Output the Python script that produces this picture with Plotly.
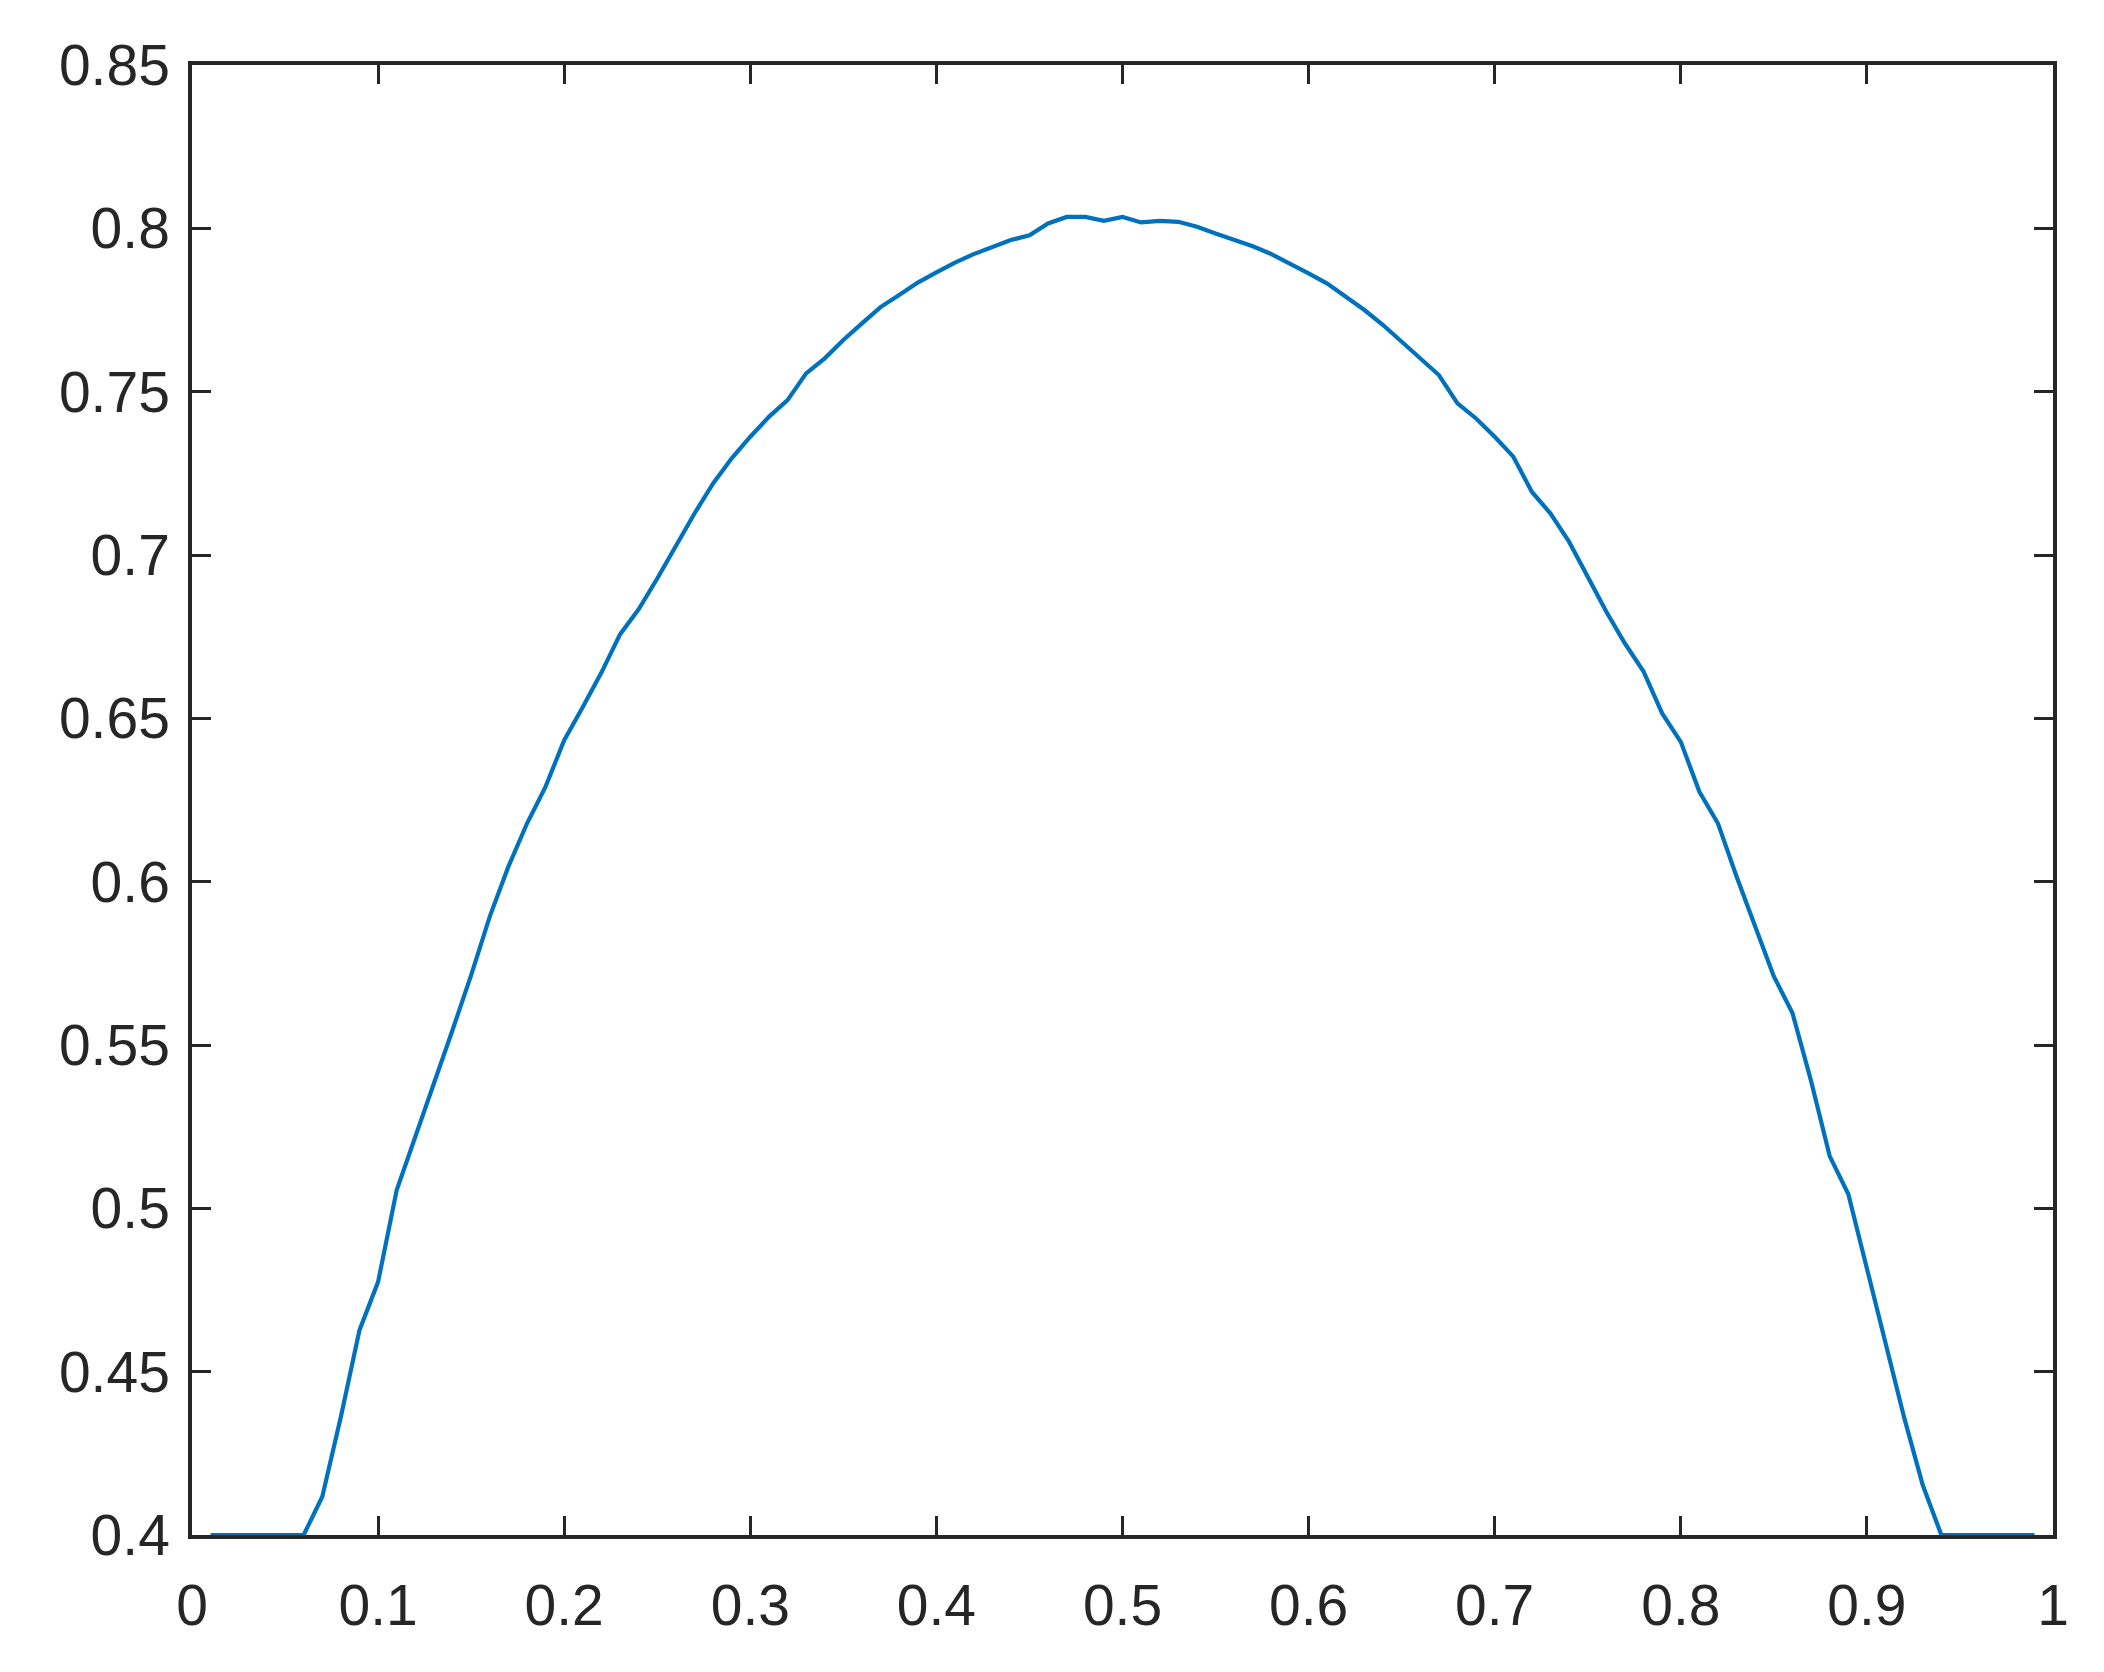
import plotly.graph_objects as go

# x grid (0.01 .. 0.99, step 0.01)
x_values = [round(0.01 * i, 2) for i in range(1, 100)]

y_values = [
    0.4, 0.4, 0.4, 0.4, 0.4, 0.4,                      # 0.01-0.06
    0.4117, 0.4362, 0.4627, 0.4775,                    # 0.07-0.10
    0.5056, 0.5219, 0.5375, 0.5546, 0.5714,            # 0.11-0.15
    0.5893, 0.6046, 0.6178, 0.6291, 0.6433,            # 0.16-0.20
    0.6535, 0.6640, 0.6757, 0.6834, 0.6928,            # 0.21-0.25
    0.7030, 0.7127, 0.7219, 0.7296, 0.7362,            # 0.26-0.30
    0.7423, 0.7474, 0.7556, 0.7602, 0.7658,            # 0.31-0.35
    0.7709, 0.7759, 0.7796, 0.7834, 0.7865,            # 0.36-0.40
    0.7895, 0.7921, 0.7943, 0.7964, 0.7979,            # 0.41-0.45
    0.8015, 0.8035, 0.8035, 0.8023, 0.8035,            # 0.46-0.50
    0.8018, 0.8023, 0.8020, 0.8005, 0.7984,            # 0.51-0.55
    0.7966, 0.7945, 0.7921, 0.7893, 0.7862,            # 0.56-0.60
    0.7831, 0.7790, 0.7750, 0.7704, 0.7652,            # 0.61-0.65
    0.7602, 0.7551, 0.7464, 0.7418, 0.7362,            # 0.66-0.70
    0.7301, 0.7193, 0.7127, 0.7040, 0.6933,            # 0.71-0.75
    0.6826, 0.6729, 0.6643, 0.6515, 0.6428,            # 0.76-0.80
    0.6275, 0.6178, 0.6015, 0.5860, 0.5710,            # 0.81-0.85
    0.5598, 0.5390, 0.5160, 0.5044, 0.4816,            # 0.86-0.90
    0.4594, 0.4360, 0.4153,                            # 0.91-0.93
    0.4, 0.4, 0.4, 0.4, 0.4, 0.4,                      # 0.94-0.99
]

x_ticks = [0, 0.1, 0.2, 0.3, 0.4, 0.5, 0.6, 0.7, 0.8, 0.9, 1]
x_tick_labels = ["0", "0.1", "0.2", "0.3", "0.4", "0.5", "0.6", "0.7", "0.8", "0.9", "1"]
y_ticks = [0.4, 0.45, 0.5, 0.55, 0.6, 0.65, 0.7, 0.75, 0.8, 0.85]
y_tick_labels = ["0.4", "0.45", "0.5", "0.55", "0.6", "0.65", "0.7", "0.75", "0.8", "0.85"]

AX = "#262626"
FONT = dict(family="Liberation Sans, Arial, Helvetica, sans-serif", size=57, color=AX)

fig = go.Figure()
fig.add_trace(go.Scatter(
    x=x_values, y=y_values, mode="lines",
    line=dict(color="#0072BD", width=4.2),
    showlegend=False, hoverinfo="skip",
))

axis_common = dict(
    showgrid=False, zeroline=False,
    showline=True, linecolor=AX, linewidth=3.5,
    mirror="ticks", ticks="inside", ticklen=19, tickwidth=3, tickcolor=AX,
    tickfont=FONT,
)

fig.update_xaxes(range=[0, 1], tickmode="array", tickvals=x_ticks, ticktext=x_tick_labels,
                 ticklabelstandoff=18, **axis_common)
fig.update_yaxes(range=[0.4, 0.85], tickmode="array", tickvals=y_ticks, ticktext=y_tick_labels,
                 ticklabelstandoff=7, **axis_common)

fig.update_layout(
    width=2088, height=1656,
    margin=dict(l=184, r=43, t=57, b=129, pad=0),
    paper_bgcolor="white", plot_bgcolor="white",
    font=FONT,
)

fig.write_html("out.html")
